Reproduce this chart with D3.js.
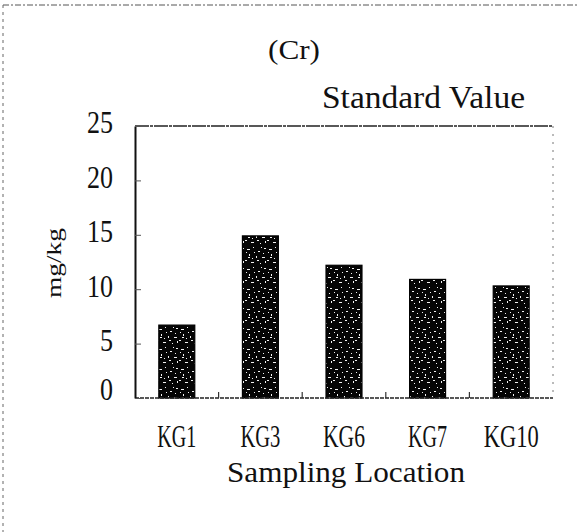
<!DOCTYPE html>
<html>
<head>
<meta charset="utf-8">
<script src="https://cdn.jsdelivr.net/npm/d3@7"></script>
<style>
  html, body { margin: 0; padding: 0; background: #fff; }
  svg { display: block; }
  text { font-family: "Liberation Serif", "DejaVu Serif", serif; fill: #111; }
</style>
</head>
<body>
<svg id="chart" width="578" height="532"></svg>
<script>
// ---- data ----
const categories = ["KG1", "KG3", "KG6", "KG7", "KG10"];
const values = [6.7, 14.9, 12.2, 10.9, 10.3];
const yTicks = [0, 5, 10, 15, 20, 25];
const labelWidths = [39, 40, 42, 39, 55];
const titleText = "(Cr)";
const standardText = "Standard Value";
const xTitle = "Sampling Location";
const yTitle = "mg/kg";

const svg = d3.select("#chart");
const W = 578, H = 532;
const m = { left: 135, right: W - 553, top: 126, bottom: H - 398 };
const iw = W - m.left - m.right, ih = H - m.top - m.bottom;

// speckled (scanned) texture for bars
const defs = svg.append("defs");
const pat = defs.append("pattern")
  .attr("id", "speck").attr("patternUnits", "userSpaceOnUse")
  .attr("width", 22).attr("height", 20);
pat.append("rect").attr("width", 22).attr("height", 20).attr("fill", "#050505");
const specks = [[2,3,3,1],[8,1,1,1],[13,5,2,1],[4,8,1,2],[0,14,2,1],[9,6,1,1],[17,11,3,1],[11,10,1,2],
                [1,6,1,1],[19,2,2,1],[6,16,3,1],[15,17,1,1],[18,7,1,1],[3,11,2,1],[12,14,2,1],[7,12,1,1],[16,1,1,1],[20,15,1,2]];
specks.forEach(s => pat.append("rect").attr("x", s[0]).attr("y", s[1]).attr("width", s[2]).attr("height", s[3]).attr("fill", "#f2f2f2"));

// page frame (scan border)
svg.append("line").attr("x1", 3).attr("x2", W).attr("y1", 5).attr("y2", 5)
  .attr("stroke", "#555").attr("stroke-width", 1).attr("stroke-dasharray", "6,2,2,2");
svg.append("line").attr("x1", 3).attr("x2", 3).attr("y1", 5).attr("y2", H)
  .attr("stroke", "#666").attr("stroke-width", 1).attr("stroke-dasharray", "3,4");

const g = svg.append("g").attr("transform", `translate(${m.left},${m.top})`);

const x = d3.scaleBand().domain(categories).range([0, iw]).paddingInner(0.57).paddingOuter(0.285);
const y = d3.scaleLinear().domain([0, 25]).range([ih, 0]);

// bars
g.selectAll("rect.bar").data(values).join("rect")
  .attr("class", "bar")
  .attr("x", (d, i) => x(categories[i]))
  .attr("width", x.bandwidth())
  .attr("y", d => y(d))
  .attr("height", d => ih - y(d))
  .attr("fill", "url(#speck)")
  .attr("stroke", "#000").attr("stroke-width", 1.2);

// top line (standard value) and right border
g.append("line").attr("x1", 0).attr("x2", iw).attr("y1", y(25)).attr("y2", y(25))
  .attr("stroke", "#222").attr("stroke-width", 1.6).attr("stroke-dasharray", "14,1,3,1");
g.append("line").attr("x1", iw).attr("x2", iw).attr("y1", y(25)).attr("y2", ih)
  .attr("stroke", "#777").attr("stroke-width", 1).attr("stroke-dasharray", "2,6");

// baseline
g.append("line").attr("x1", 0).attr("x2", iw).attr("y1", ih).attr("y2", ih)
  .attr("stroke", "#222").attr("stroke-width", 1.5).attr("stroke-dasharray", "4,1");
// category boundary ticks
const step = x.step();
d3.range(1, categories.length).forEach(i => {
  const bx = x(categories[i]) - (step - x.bandwidth()) / 2;
  g.append("line").attr("x1", bx).attr("x2", bx).attr("y1", ih).attr("y2", ih - 6)
    .attr("stroke", "#333").attr("stroke-width", 1.2);
});

// y axis
const yAxis = d3.axisLeft(y).tickValues(yTicks).tickSizeInner(-6).tickSizeOuter(0).tickPadding(22);
const ya = g.append("g").call(yAxis);
ya.select(".domain").attr("stroke", "#111").attr("stroke-width", 2);
ya.selectAll(".tick line").attr("stroke", "#555").attr("stroke-width", 1);
ya.selectAll(".tick text")
  .attr("font-size", 31).attr("dy", d => d === 0 ? "0.05em" : "0.22em")
  .attr("textLength", d => String(d).length * 13)
  .attr("lengthAdjust", "spacingAndGlyphs")
  .style("font-family", "Liberation Serif");

// x axis labels
const xAxis = d3.axisBottom(x).tickSize(0).tickPadding(0);
const xa = g.append("g").attr("transform", `translate(0,${ih})`).call(xAxis);
xa.select(".domain").remove();
xa.selectAll(".tick text")
  .attr("y", 49).attr("dy", 0)
  .attr("font-size", 32)
  .attr("textLength", (d, i) => labelWidths[i])
  .attr("lengthAdjust", "spacingAndGlyphs")
  .style("font-family", "Liberation Serif");

// titles
svg.append("text").attr("x", 294).attr("y", 59).attr("text-anchor", "middle")
  .attr("font-size", 28).attr("textLength", 52).attr("lengthAdjust", "spacingAndGlyphs")
  .text(titleText);
svg.append("text").attr("x", 322).attr("y", 108)
  .attr("font-size", 31).attr("textLength", 203).attr("lengthAdjust", "spacingAndGlyphs")
  .text(standardText);
svg.append("text").attr("x", 346).attr("y", 482).attr("text-anchor", "middle")
  .attr("font-size", 30).attr("textLength", 238).attr("lengthAdjust", "spacingAndGlyphs")
  .text(xTitle);
svg.append("text").attr("transform", "translate(61,263) rotate(-90)").attr("text-anchor", "middle")
  .attr("font-size", 22).attr("textLength", 70).attr("lengthAdjust", "spacingAndGlyphs")
  .text(yTitle);
</script>
</body>
</html>
